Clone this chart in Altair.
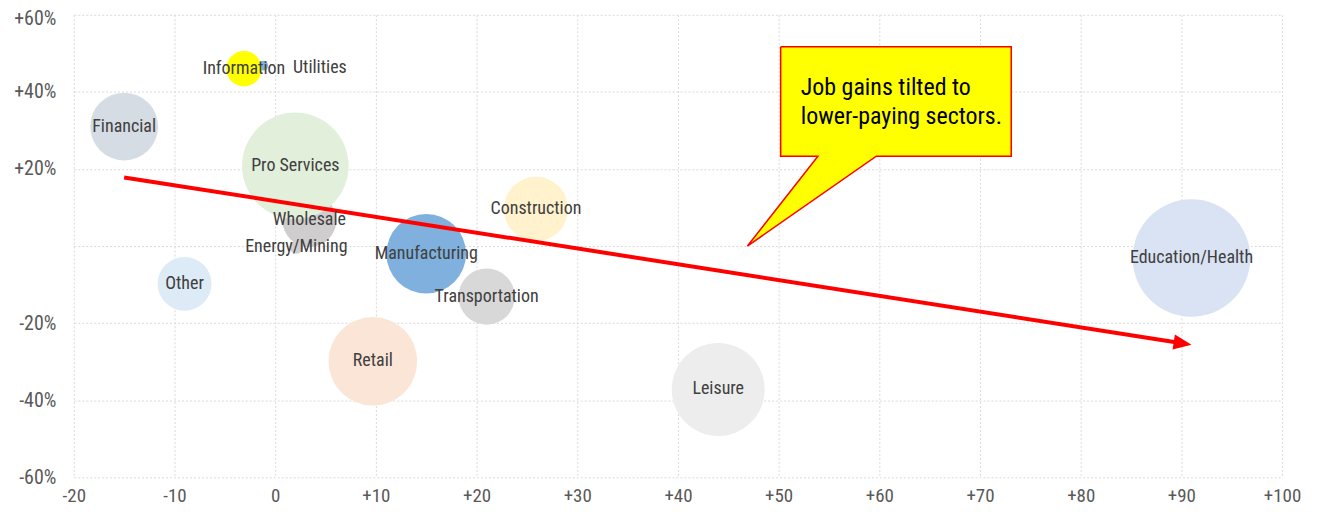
import math
import altair as alt
import pandas as pd

# ---- data ----
sectors = ["Utilities", "Information", "Financial", "Energy/Mining", "Wholesale",
           "Pro Services", "Other", "Manufacturing", "Construction", "Transportation",
           "Retail", "Leisure", "Education/Health"]
job_change = [-1.2, -3.1, -15.0, 2.1, 3.4, 2.0, -9.0, 15.0, 25.9, 21.0, 9.7, 44.0, 91.0]
pay_gap = [46.8, 46.0, 31.0, -0.3, 6.7, 20.8, -9.8, -2.0, 9.6, -13.1, -29.9, -37.2, -3.1]
bubble = [0.17, 2.18, 7.97, 0.3, 5.03, 19.7, 5.03, 11.0, 7.2, 5.5, 13.6, 15.0, 24.0]

palette = ["#7FB0DE", "#FFFF00", "#D6DCE4", "#CFCDCE", "#CFCDCE", "#E2EFDA", "#DDEBF7",
           "#7FB0DE", "#FFF2CC", "#D8D8D8", "#FBE5D6", "#EDEDED", "#DAE3F3"]

trend_x = [-15.0, 91.0]
trend_y = [17.8, -25.6]

callout_text = ["Job gains tilted to", "lower-paying sectors."]
box_x = [50.2, 73.1]
box_y = [23.3, 51.7]
pointer_tip = (46.9, 0.0)
pointer_base_x = [53.9, 59.7]

FONT = "Liberation Sans Narrow, Roboto Condensed, DejaVu Sans Condensed, Arial Narrow, sans-serif"
W, H = 1212, 464
XD, YD = [-20, 100], [-60, 60]

df = pd.DataFrame({"sector": sectors, "x": job_change, "y": pay_gap, "size": bubble})

xs = alt.Scale(domain=XD, nice=False, zero=False)
ys = alt.Scale(domain=YD, nice=False, zero=False)
X = lambda f="x": alt.X(f"{f}:Q", scale=xs, title="",
                        axis=alt.Axis(values=list(range(-20, 101, 10)), labelFlush=False,
                                      labelExpr="datum.value > 0 ? '+' + datum.value : '' + datum.value"))
Y = lambda f="y": alt.Y(f"{f}:Q", scale=ys, title="",
                        axis=alt.Axis(values=list(range(-60, 61, 20)), labelFlush=False,
                                      labelOffset={"condition": {"test": "datum.value == 60", "value": 4}, "value": 0},
                                      labelExpr="datum.value == 0 ? '' : (datum.value > 0 ? '+' : '') + datum.value + '%'"))

bubbles = alt.Chart(df).mark_circle(opacity=1).encode(
    x=X(), y=Y(),
    size=alt.Size("size:Q", scale=alt.Scale(domain=[0, 24], range=[0, 4 * 59 ** 2]), legend=None),
    color=alt.Color("sector:N", scale=alt.Scale(domain=sectors, range=palette), legend=None),
)

# trend arrow
px_dx = (trend_x[1] - trend_x[0]) * W / (XD[1] - XD[0])
px_dy = (trend_y[0] - trend_y[1]) * H / (YD[1] - YD[0])
angle = math.degrees(math.atan2(px_dy, px_dx))
head_len = 18.0
frac = 1 - (head_len * 0.8) / math.hypot(px_dx, px_dy)
line_df = pd.DataFrame({
    "x": [trend_x[0], trend_x[0] + (trend_x[1] - trend_x[0]) * frac],
    "y": [trend_y[0], trend_y[0] + (trend_y[1] - trend_y[0]) * frac],
})
trend = alt.Chart(line_df).mark_line(color="#FF0000", strokeWidth=4, strokeCap="butt").encode(x=X(), y=Y())
head = alt.Chart(pd.DataFrame({"x": [trend_x[1]], "y": [trend_y[1]]})).mark_point(
    shape="M0,0L-2,-0.85L-2,0.85Z", filled=True, color="#FF0000", opacity=1,
    size=head_len ** 2, angle=angle).encode(x=X(), y=Y())

# labels
LABEL_SIZE = 18
lab_df = df[df["sector"] != "Utilities"]
labels = alt.Chart(lab_df).mark_text(font=FONT, fontSize=LABEL_SIZE, color="#404040").encode(
    x=X(), y=Y(), text="sector:N")
util_label = alt.Chart(df[df["sector"] == "Utilities"]).mark_text(
    font=FONT, fontSize=LABEL_SIZE, color="#404040", align="left", dx=30, dy=2).encode(
    x=X(), y=Y(), text="sector:N")

# callout
box = alt.Chart(pd.DataFrame({"x": [box_x[0]], "x2": [box_x[1]], "y": [box_y[0]], "y2": [box_y[1]]})).mark_rect(
    fill="#FFFF00").encode(x=X(), x2="x2:Q", y=Y(), y2="y2:Q")
tri = alt.Chart(pd.DataFrame({
    "y": [pointer_tip[1], box_y[0], box_y[0] + 2],
    "x": [pointer_tip[0], pointer_base_x[0], pointer_base_x[0]],
    "x2": [pointer_tip[0], pointer_base_x[1], pointer_base_x[1]],
})).mark_area(fill="#FFFF00", orient="horizontal", opacity=1).encode(x=X(), x2="x2:Q", y=Y())
outline_pts = [(box_x[0], box_y[1]), (box_x[1], box_y[1]), (box_x[1], box_y[0]),
               (pointer_base_x[1], box_y[0]), pointer_tip, (pointer_base_x[0], box_y[0]),
               (box_x[0], box_y[0]), (box_x[0], box_y[1])]
outline = alt.Chart(pd.DataFrame({"x": [p[0] for p in outline_pts], "y": [p[1] for p in outline_pts],
                                  "o": list(range(len(outline_pts)))})).mark_line(
    color="#FF0000", strokeWidth=1.5, strokeJoin="miter").encode(x=X(), y=Y(), order="o:Q")
ctext = alt.Chart(pd.DataFrame({"x": [52.2], "y": [41.1], "t": [callout_text]})).mark_text(
    font=FONT, fontSize=24, color="#000000", align="left", baseline="middle", lineHeight=30).encode(
    x=X(), y=Y(), text="t")

chart = alt.layer(bubbles, trend, head, labels, util_label, box, tri, outline, ctext).properties(
    width=W, height=H,
    autosize=alt.AutoSizeParams(type="none"),
    padding={"left": 66, "top": 6, "right": 30, "bottom": 34},
).configure_view(stroke=None).configure_axis(
    grid=True, gridColor="#D9D9D9", gridDash=[2, 2], gridWidth=1,
    domain=False, ticks=False, labelFont=FONT, labelFontSize=20, labelColor="#595959",
).configure_axisY(labelPadding=18).configure_axisX(labelPadding=9, labelFontSize=19)

chart.save("out.html", embed_options={"renderer": "svg", "actions": False})
